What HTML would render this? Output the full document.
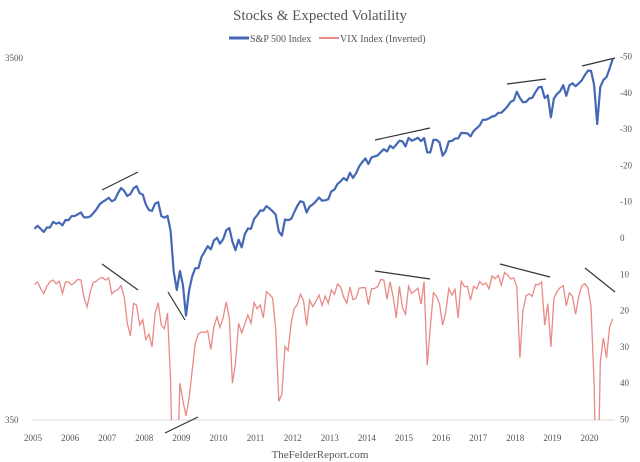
<!DOCTYPE html>
<html><head><meta charset="utf-8"><style>
html,body{margin:0;padding:0;background:#fff;width:640px;height:462px;overflow:hidden;}
svg{display:block;font-family:"Liberation Serif",serif;}
</style></head><body>
<svg id="chart" width="640" height="462" viewBox="0 0 640 462">
<text x="320" y="20" text-anchor="middle" font-size="15" fill="#555">Stocks &amp; Expected Volatility</text>
<g>
<line x1="229" y1="38" x2="249" y2="38" stroke="#4468b5" stroke-width="3"/>
<text x="250" y="42" font-size="10" fill="#555">S&amp;P 500 Index</text>
<line x1="319" y1="38" x2="339" y2="38" stroke="#e88a86" stroke-width="2"/>
<text x="340" y="42" font-size="10" fill="#555">VIX Index (Inverted)</text>
</g>
<line x1="32" y1="420" x2="615" y2="420" stroke="#d9d9d9"/>
<g id="xt"></g>
<g id="yl"></g>
<g id="yr"></g>
<g id="series"></g>
<g stroke="#333" stroke-width="1.2">
<line x1="102" y1="190" x2="138" y2="172"/><line x1="375" y1="140" x2="430" y2="128"/>
<line x1="507" y1="84" x2="546" y2="79"/><line x1="582" y1="66" x2="615" y2="58"/>
<line x1="102" y1="264" x2="138" y2="290"/><line x1="168" y1="292" x2="185" y2="320"/>
<line x1="165" y1="433" x2="198" y2="417"/><line x1="375" y1="271" x2="430" y2="279"/>
<line x1="500" y1="264" x2="550" y2="277"/><line x1="585" y1="268" x2="615" y2="292"/>
</g>
<text x="320" y="458" text-anchor="middle" font-size="11" fill="#555">TheFelderReport.com</text>
</svg>
<script>
const years=[2005,2006,2007,2008,2009,2010,2011,2012,2013,2014,2015,2016,2017,2018,2019,2020];
const leftTicks=["3500","350"];
const rightTicks=[-50,-40,-30,-20,-10,0,10,20,30,40,50];
const sp500=[1181,1204,1180,1157,1191,1191,1234,1220,1229,1207,1249,1248,
1280,1281,1295,1311,1270,1270,1277,1304,1336,1378,1401,1418,
1438,1407,1421,1482,1531,1503,1455,1474,1527,1549,1481,1468,
1379,1331,1323,1386,1400,1280,1267,1283,1165,900,800,903,
826,680,798,873,919,919,987,1021,1057,1036,1096,1115,
1074,1104,1169,1187,1089,1031,1102,1049,1141,1183,1181,1258,
1286,1327,1326,1364,1345,1321,1292,1160,1131,1253,1247,1258,
1312,1366,1408,1398,1310,1362,1379,1407,1441,1412,1416,1426,
1498,1515,1569,1598,1631,1606,1686,1633,1682,1757,1806,1848,
1783,1859,1872,1884,1924,1960,1931,2003,1972,2018,2068,2059,
1995,2105,2068,2086,2107,2063,2104,1920,1920,2079,2080,2044,
1880,1932,2060,2065,2097,2099,2174,2171,2168,2126,2199,2239,
2279,2364,2363,2384,2412,2423,2470,2472,2519,2575,2648,2674,
2824,2714,2641,2648,2705,2718,2816,2902,2914,2712,2760,2400,
2704,2784,2834,2946,2752,2942,2980,2926,2977,3038,3141,3231,
3226,2954,2300,2912,3044,3100,3271,3480];
const vix=[12.8,12.1,14,15.3,13.3,12,11.6,12.6,11.9,15.3,12.1,12.1,
12.9,12.3,11.4,11.6,16.4,19,14.9,12.3,11.9,11.1,10.9,11.6,
11,15.4,14.6,14.2,13.1,16.2,23.5,27,18,18.5,24,22.5,
28,26.5,30,20.8,17.8,24,25,20.7,39.4,80,70,40,
44.8,49,44.1,36.5,28.9,26.4,25.9,26,25.6,30.7,24.5,21.7,
24.6,22,17.6,22,40,34.5,23.5,26.1,23.7,21.2,23.5,17.8,
19.5,18.4,22,14.8,15.5,16.5,25,45,42.9,29.9,31,23.4,
19.4,18.4,15.5,17.2,24.1,17.1,18.9,17.5,15.7,18.6,16,18,
14.3,15.5,12.7,13.5,16.3,18,13.5,17,16.6,13.8,13.7,13.7,
18.4,14,13.9,13.4,11.4,11.6,16.9,12,16.3,22,13.3,19.2,
21,13.3,15.3,14.6,13.8,18.2,12.1,35,24.5,15.1,16.1,18.2,
24,20.5,13.9,15.7,14.2,22,11.9,13.4,13.3,17.1,13.3,14,
11.99,12.9,12.4,14,10.4,11.2,10.3,13,9.5,10.2,11.3,11,
13.5,33,19.9,15.9,15.4,16.1,12.8,12.9,12.1,24,18.1,30,
16.6,14.8,13.7,13.1,18.7,15.1,16.1,21,16.2,13.2,12.6,13.8,
18.8,40,80,34.2,27.5,33,24.5,22.3];
const X=t=>33+(t-2005)*37.1;
const YL=v=>420-Math.log10(v/350)*362;
const YR=v=>238+v*3.63;
const NS="http://www.w3.org/2000/svg";
function mk(tag,attrs,parent,txt){const e=document.createElementNS(NS,tag);for(const k in attrs)e.setAttribute(k,attrs[k]);if(txt!==undefined)e.textContent=txt;parent.appendChild(e);return e;}
const xt=document.getElementById('xt');
years.forEach(y=>{const t=mk('text',{x:X(y),y:441,'text-anchor':'middle','font-size':'9',fill:'#555'},xt,String(y));

});
const yl=document.getElementById('yl');
leftTicks.forEach(s=>{const t=mk('text',{x:5,y:YL(+s)+3,'font-size':'9',fill:'#555'},yl,s);

});
const yr=document.getElementById('yr');
rightTicks.forEach(v=>{const t=mk('text',{x:620,y:YR(v)+3,'font-size':'9',fill:'#555'},yr,String(v));

});
const ser=document.getElementById('series');
const cp=mk('clipPath',{id:'cp'},ser);mk('rect',{x:0,y:50,width:640,height:370},cp);
const tOf=i=>2005+(i+0.5)/12;
const vd=vix.map((v,i)=>(i?'L':'M')+X(tOf(i)).toFixed(1)+','+YR(v).toFixed(1)).join('');
const vp=mk('path',{d:vd,fill:'none',stroke:'#e88a86','stroke-width':'1.3','clip-path':'url(#cp)'},ser);


const sd=sp500.map((v,i)=>(i?'L':'M')+X(tOf(i)).toFixed(1)+','+YL(v).toFixed(1)).join('');
const sp=mk('path',{d:sd,fill:'none',stroke:'#4468b5','stroke-width':'2.2','stroke-linejoin':'round'},ser);


</script>
</body></html>
